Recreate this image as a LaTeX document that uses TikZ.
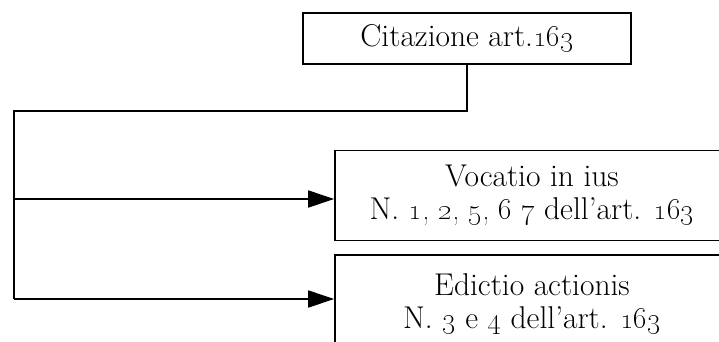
\documentclass[tikz,border=0pt]{standalone}
\usetikzlibrary{arrows.meta,positioning}
\begin{document}
\begin{tikzpicture}[x=1pt,y=-1pt,
	box/.style={draw,line width=1.7pt,inner sep=0pt,align=center,
		font=\fontsize{31.5}{33}\selectfont},
	conn/.style={line width=1.7pt},
	arr/.style={conn,-{Triangle[length=26pt,width=17pt]}}
	]
	\useasboundingbox (0,0) rectangle (719,341);
	\begin{scope}
		\clip (0,0) rectangle (719,341);
		\node[box,minimum width=328pt,minimum height=51pt] (cit) at (467,38.5) {Citazione art.\oldstylenums{163}};
		\node[box,minimum width=394pt,minimum height=90pt] (voc) at (532,195.5) {Vocatio in ius\\N. \oldstylenums{1, 2, 5, 6 7} dell’art. \oldstylenums{163}};
		\node[box,minimum width=394pt,minimum height=98pt] (edi) at (532,304) {Edictio actionis\\N. \oldstylenums{3} e \oldstylenums{4} dell’art. \oldstylenums{163}};
		% connettori
		\coordinate (turn) at (14,111);
		\coordinate (mid) at (14,199);
		\coordinate (bot) at (14,299);
		\draw[conn] (cit.south) |- (turn) -- (bot);
		\draw[arr] (mid) -- (mid -| voc.west);
		\draw[arr] (bot) -- (bot -| edi.west);
	\end{scope}
\end{tikzpicture}
\end{document}
